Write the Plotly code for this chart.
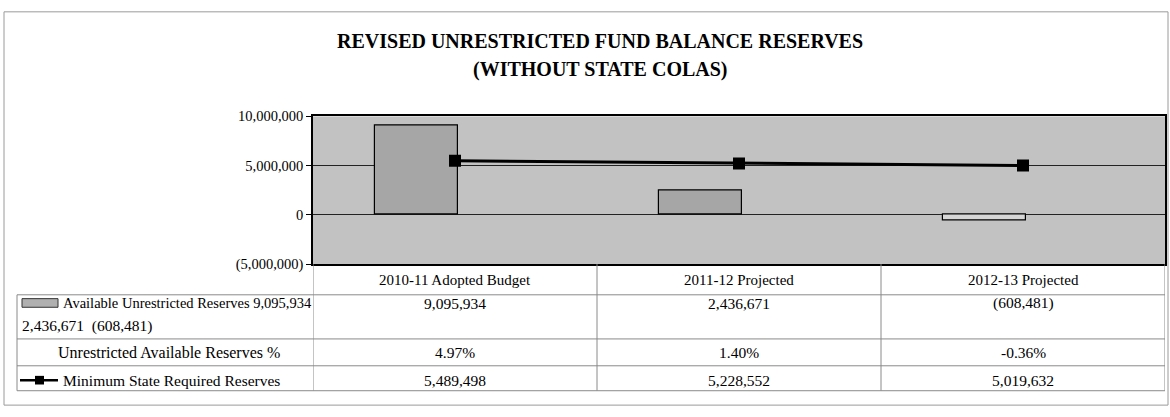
import plotly.graph_objects as go

# ---------------- data ----------------
categories = ["2010-11 Adopted Budget", "2011-12 Projected", "2012-13 Projected"]
available_reserves = [9095934, 2436671, -608481]
reserves_pct = ["4.97%", "1.40%", "-0.36%"]
min_required = [5489498, 5228552, 5019632]
y_ticks = [-5000000, 0, 5000000, 10000000]

title_line1 = "REVISED UNRESTRICTED FUND BALANCE RESERVES"
title_line2 = "(WITHOUT STATE COLAS)"
row1_label_a = "Available Unrestricted Reserves 9,095,934"
row1_label_b = "2,436,671  (608,481)"
row2_label = "Unrestricted Available Reserves %"
row3_label = "Minimum State Required Reserves"

W, H = 1170, 417
FONT = "Liberation Serif"


def fmt(v):
    s = f"{abs(v):,.0f}"
    return f"({s})" if v < 0 else s


def px(x):
    return x / W


def py(y):
    return 1 - y / H


# plot area in pixels
PL, PR, PT, PB = 313, 1165, 113, 267

xs = list(range(len(categories)))
bar_colors = ["#a6a6a6" if v >= 0 else "#d6d6d6" for v in available_reserves]

fig = go.Figure()
fig.add_trace(go.Bar(
    x=xs, y=available_reserves, width=0.293, offset=-0.283,
    marker=dict(color=bar_colors, line=dict(color="black", width=1.2)),
    showlegend=False, hoverinfo="skip",
))
fig.add_trace(go.Scatter(
    x=xs, y=min_required, mode="lines+markers",
    line=dict(color="black", width=3),
    marker=dict(symbol="square", size=12, color="black"),
    showlegend=False, hoverinfo="skip",
))

fig.update_layout(
    width=W, height=H,
    margin=dict(l=0, r=0, t=0, b=0),
    paper_bgcolor="white",
    plot_bgcolor="#c2c2c2",
    font=dict(family=FONT, size=15, color="black"),
    xaxis=dict(domain=[px(PL), px(PR)], range=[-0.5, 2.5], showticklabels=False,
               showgrid=False, zeroline=False, ticks="",
               showline=True, linecolor="black", linewidth=1.5, mirror=True),
    yaxis=dict(domain=[py(PB), py(PT)], range=[-5000000, 10000000],
               tickvals=y_ticks, ticktext=[fmt(v) for v in y_ticks],
               ticks="outside", ticklen=5, tickcolor="black",
               tickfont=dict(family=FONT, size=14.5, color="black"),
               showgrid=True, gridcolor="#222", gridwidth=1,
               zeroline=True, zerolinecolor="#222", zerolinewidth=1,
               showline=True, linecolor="black", linewidth=1.5, mirror=True),
    bargap=0,
)

shapes = []
ann = []

# outer chart border
shapes.append(dict(type="rect", xref="paper", yref="paper",
                   x0=px(4), x1=px(1168), y0=py(414), y1=py(4),
                   line=dict(color="#9a9a9a", width=1)))

# title
ann.append(dict(text=f"<b>{title_line1}</b>", xref="paper", yref="paper",
                x=px(600), y=py(34), showarrow=False, xanchor="center", yanchor="middle",
                font=dict(family=FONT, size=20)))
ann.append(dict(text=f"<b>{title_line2}</b>", xref="paper", yref="paper",
                x=px(600), y=py(64), showarrow=False, xanchor="center", yanchor="middle",
                font=dict(family=FONT, size=20)))

# ---------------- data table ----------------
TL = 17
row_lines = [299, 345, 373, 399]
LC = "#8a8a8a"
for i in range(len(categories) + 1):
    shapes.append(dict(type="line", xref="x", yref="paper",
                       x0=i - 0.5, x1=i - 0.5, y0=py(row_lines[-1]), y1=py(PB),
                       line=dict(color=LC, width=1)))
shapes.append(dict(type="line", xref="paper", yref="paper",
                   x0=px(TL), x1=px(TL), y0=py(row_lines[-1]), y1=py(row_lines[0]),
                   line=dict(color=LC, width=1)))
for ry in row_lines:
    shapes.append(dict(type="line", xref="paper", yref="paper",
                       x0=px(TL), x1=px(PR), y0=py(ry), y1=py(ry),
                       line=dict(color=LC, width=1)))

# header category labels
for i, c in enumerate(categories):
    ann.append(dict(text=c, xref="x", yref="paper", x=i, y=py(284),
                    showarrow=False, xanchor="center", yanchor="middle",
                    font=dict(family=FONT, size=15)))

# values
VF = dict(family=FONT, size=15.5)
for i in xs:
    ann.append(dict(text=fmt(available_reserves[i]), xref="x", yref="paper", x=i, y=py(308),
                    showarrow=False, xanchor="center", yanchor="middle", font=VF))
    ann.append(dict(text=reserves_pct[i], xref="x", yref="paper", x=i, y=py(359),
                    showarrow=False, xanchor="center", yanchor="middle", font=VF))
    ann.append(dict(text=fmt(min_required[i]), xref="x", yref="paper", x=i, y=py(388),
                    showarrow=False, xanchor="center", yanchor="middle", font=VF))

# row labels
ann.append(dict(text=row1_label_a, xref="paper", yref="paper", x=px(61), y=py(308),
                showarrow=False, xanchor="left", yanchor="middle",
                font=dict(family=FONT, size=14.5)))
ann.append(dict(text=row1_label_b, xref="paper", yref="paper", x=px(20), y=py(332),
                showarrow=False, xanchor="left", yanchor="middle",
                font=dict(family=FONT, size=15.5)))
ann.append(dict(text=row2_label, xref="paper", yref="paper", x=px((TL + PL) / 2 + 4), y=py(359),
                showarrow=False, xanchor="center", yanchor="middle",
                font=dict(family=FONT, size=16)))
ann.append(dict(text=row3_label, xref="paper", yref="paper", x=px(61), y=py(388),
                showarrow=False, xanchor="left", yanchor="middle",
                font=dict(family=FONT, size=15.5)))

# legend keys
shapes.append(dict(type="rect", xref="paper", yref="paper",
                   x0=px(22), x1=px(58), y0=py(312), y1=py(303),
                   fillcolor="#b0b0b0", line=dict(color="#333", width=1)))
shapes.append(dict(type="line", xref="paper", yref="paper",
                   x0=px(20), x1=px(58), y0=py(388), y1=py(388),
                   line=dict(color="black", width=2.5)))
shapes.append(dict(type="rect", xref="paper", yref="paper",
                   x0=px(35), x1=px(44), y0=py(392.5), y1=py(383.5),
                   fillcolor="black", line=dict(color="black", width=0)))

fig.update_layout(shapes=shapes, annotations=ann)
fig.write_html("out.html")
